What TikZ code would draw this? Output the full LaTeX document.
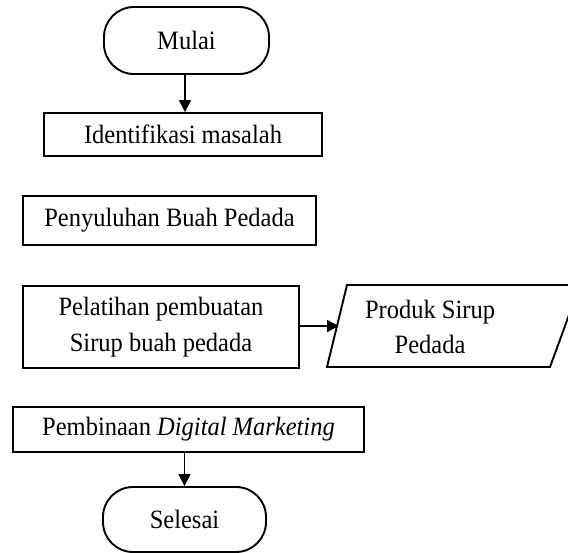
\documentclass[tikz,border=0pt]{standalone}
\usepackage{fontspec}
\setmainfont{Liberation Serif}
\usetikzlibrary{arrows.meta}
\newcommand\vtxt[1]{\scalebox{1}[1.08]{#1}}
\begin{document}
\begin{tikzpicture}[x=1pt,y=-1pt,
  every node/.style={font=\fontsize{24.5}{35.5}\selectfont, inner sep=0pt, line width=1.9pt},
  procbox/.style={draw, rectangle, align=center},
  termbox/.style={draw, rectangle, rounded corners=30pt},
  flow/.style={line width=1.7pt, -{Triangle[length=12pt,width=12pt]}}
]
\useasboundingbox (0,0) rectangle (568,553);
\node[termbox, minimum width=165pt, minimum height=67pt] (mulai) at (186.5,40.5) {\vtxt{Mulai}};
\node[procbox, minimum width=278pt, minimum height=43pt] (ident) at (183,134.5) {\vtxt{Identifikasi masalah}};
\node[procbox, minimum width=293pt, minimum height=49pt] (peny) at (169.5,220.5) {\vtxt{Penyuluhan Buah Pedada}};
\node[procbox, minimum width=276pt, minimum height=82pt] (pel) at (161,327) {\vtxt{Pelatihan pembuatan}\\\vtxt{Sirup buah pedada}};
\node[align=center] (prod) at (430,327) {\vtxt{Produk Sirup}\\\vtxt{Pedada}};
\coordinate (pbl) at (327,367);
\coordinate (ptl) at (347,285);
\coordinate (ptr) at (580,285);
\coordinate (pbr) at (550,367);
\coordinate (pin) at (339,326);
\draw[line width=1.9pt, line join=miter] (pbl) -- (ptl) -- (ptr) -- (pbr) -- cycle;
\node[procbox, minimum width=351pt, minimum height=45pt] (pemb) at (188.5,429.5) {\vtxt{Pembinaan \textit{Digital Marketing}}};
\node[termbox, minimum width=163pt, minimum height=65pt] (sel) at (184.5,519.5) {\vtxt{Selesai}};
\draw[flow] (mulai.south -| 185,0) -- (ident.north -| 185,0);
\draw[flow] (pel.east |- pin) -- (pin);
\draw[flow] (pemb.south -| sel.north) -- (sel.north);
\end{tikzpicture}
\end{document}
